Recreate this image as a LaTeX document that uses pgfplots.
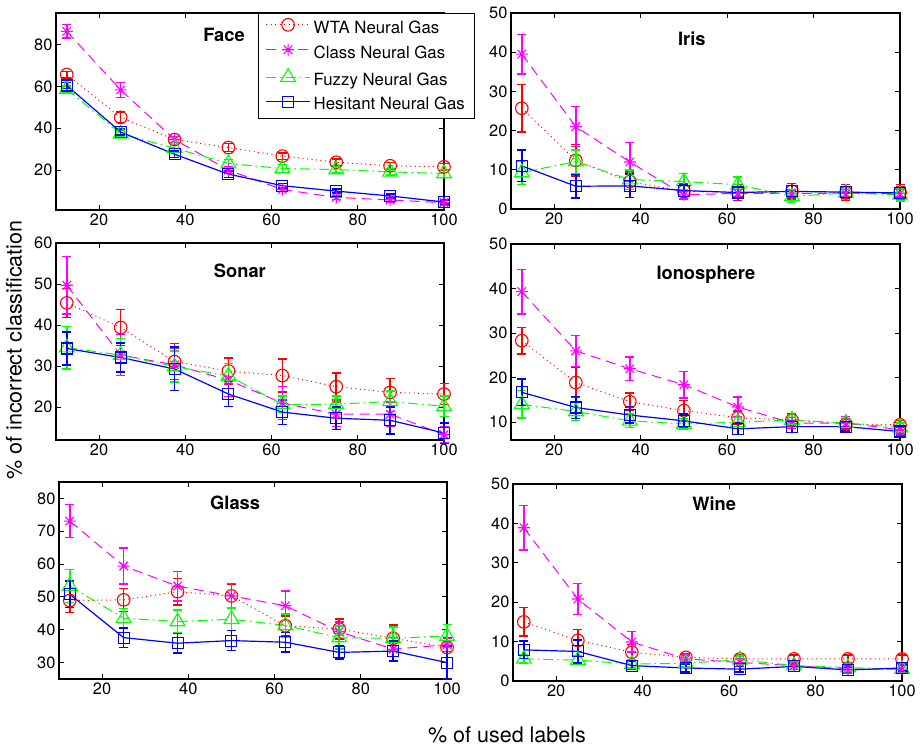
\documentclass[border=0pt]{standalone}
\usepackage{fontspec}
\setmainfont{TeX Gyre Heros}
\usepackage{pgfplots}
\pgfplotsset{compat=1.18}

\definecolor{mred}{rgb}{1,0,0}
\definecolor{mmag}{rgb}{1,0,1}
\definecolor{mgreen}{rgb}{0,1,0}
\definecolor{mblue}{rgb}{0,0,1}

% matlab style '*' (plus and cross together)
\pgfdeclareplotmark{ast8}{%
  \pgfpathmoveto{\pgfpoint{-\pgfplotmarksize}{0pt}}\pgfpathlineto{\pgfpoint{\pgfplotmarksize}{0pt}}%
  \pgfpathmoveto{\pgfpoint{0pt}{-\pgfplotmarksize}}\pgfpathlineto{\pgfpoint{0pt}{\pgfplotmarksize}}%
  \pgfpathmoveto{\pgfpoint{-.7071\pgfplotmarksize}{-.7071\pgfplotmarksize}}\pgfpathlineto{\pgfpoint{.7071\pgfplotmarksize}{.7071\pgfplotmarksize}}%
  \pgfpathmoveto{\pgfpoint{-.7071\pgfplotmarksize}{.7071\pgfplotmarksize}}\pgfpathlineto{\pgfpoint{.7071\pgfplotmarksize}{-.7071\pgfplotmarksize}}%
  \pgfusepathqstroke}

\tikzset{ttl/.style={font=\fontsize{18.3}{20}\selectfont\bfseries, anchor=center}}
\newcommand{\lf}{\fontsize{16.8}{18}\selectfont}

\pgfplotsset{
  panel/.style={
    scale only axis,
    anchor=south west,
    xmin=10, xmax=100,
    xtick={20,40,60,80,100},
    tick align=inside,
    tick pos=both,
    xticklabel pos=bottom, yticklabel pos=left,
    major tick length=5pt,
    axis line style={line width=1.3pt},
    every tick/.style={black, line width=1pt},
    tick label style={font=\fontsize{16.4}{18}\selectfont},
    /pgf/number format/assume math mode=true,
    clip=false,
    error bars/y dir=both,
    error bars/y explicit,
  },
  ebar/.style={
    error bars/error bar style={color=#1, draw=#1, solid, line width=1.5pt},
    error bars/error mark options={color=#1, draw=#1, solid, rotate=90, mark size=4.5pt, line width=1.5pt}},
  wta/.style={color=mred, line width=1pt, dash pattern=on 1pt off 3.5pt, mark=o, mark size=6.3pt, mark options={solid, line width=1.1pt}, ebar=mred},
  cls/.style={color=mmag, line width=1pt, dash pattern=on 10pt off 6pt, mark=ast8, mark size=6pt, mark options={solid, line width=1.1pt}, ebar=mmag},
  fuz/.style={color=mgreen, line width=1pt, dash pattern=on 10pt off 4pt on 1.5pt off 4pt, mark=triangle, mark size=8.5pt, mark options={solid, line width=1.1pt}, ebar=mgreen},
  hes/.style={color=mblue, line width=1.2pt, solid, mark=square, mark size=5.5pt, mark options={solid, line width=1.1pt}, ebar=mblue},
}

\begin{document}
\begin{tikzpicture}
\useasboundingbox (0pt,0pt) rectangle (921pt,747pt);

% Face
\begin{axis}[panel, at={(56pt,537pt)}, width=388pt, height=197pt,
  ymin=1, ymax=95, ytick={20,40,60,80},
  legend style={at={(axis description cs:0.5206,1)}, anchor=north west,
    draw=black, line width=1pt, fill=white,
    inner xsep=7pt, inner ysep=5pt, row sep=7.2pt,
    nodes={inner xsep=3pt, inner ysep=0pt, text height=12pt, text depth=3.5pt},
    cells={anchor=west}},
  legend image code/.code={%
    \draw[mark repeat=2, mark phase=2] plot coordinates {(0pt,4pt) (22pt,4pt) (44pt,4pt)};}]
\addplot[wta] coordinates {(12.5,65.6) +- (0,1.5) (25,45.2) +- (0,2.5) (37.5,34.6) +- (0,1.5) (50,30.8) +- (0,2) (62.5,26.7) +- (0,1.5) (75,23.8) +- (0,1.5) (87.5,22.1) +- (0,1.5) (100,21.6) +- (0,1.5)};
\addplot[cls] coordinates {(12.5,86.2) +- (0,3.2) (25,58.3) +- (0,3.6) (37.5,34.6) +- (0,1.5) (50,20) +- (0,1.5) (62.5,10.8) +- (0,1) (75,7.0) +- (0,1) (87.5,5.8) +- (0,1) (100,4.5) +- (0,1)};
\addplot[fuz] coordinates {(12.5,58.7) +- (0,1.5) (25,37.4) +- (0,1.5) (37.5,30.5) +- (0,1.5) (50,23.2) +- (0,2) (62.5,20.8) +- (0,2) (75,20.3) +- (0,1.5) (87.5,19.2) +- (0,1.5) (100,18.4) +- (0,2)};
\addplot[hes] coordinates {(12.5,60.4) +- (0,1.5) (25,38.2) +- (0,1.5) (37.5,27.6) +- (0,1.5) (50,18.1) +- (0,1.5) (62.5,12.6) +- (0,1) (75,10.0) +- (0,1) (87.5,7.7) +- (0,1) (100,4.8) +- (0,1)};
\legend{\lf WTA Neural Gas, \lf Class Neural Gas, \lf Fuzzy Neural Gas, \lf Hesitant Neural Gas}
\node[ttl] at (axis description cs:0.433,0.888) {Face};
\end{axis}

% Iris
\begin{axis}[panel, at={(511pt,538pt)}, width=389pt, height=196pt,
  ymin=0, ymax=50, ytick={0,10,20,30,40,50}]
\addplot[wta] coordinates {(12.5,25.7) +- (0,6.1) (25,12.4) +- (0,4) (37.5,7.0) +- (0,2.5) (50,4.5) +- (0,2) (62.5,4.2) +- (0,2) (75,4.5) +- (0,2) (87.5,4.2) +- (0,2) (100,4.2) +- (0,2)};
\addplot[cls] coordinates {(12.5,39.5) +- (0,5) (25,21.0) +- (0,5.1) (37.5,12.0) +- (0,5) (50,3.6) +- (0,1) (62.5,4.0) +- (0,1) (75,4.0) +- (0,1) (87.5,4.0) +- (0,1) (100,4.0) +- (0,1)};
\addplot[fuz] coordinates {(12.5,9.3) +- (0,3) (25,12.1) +- (0,3) (37.5,7.5) +- (0,2.5) (50,7.0) +- (0,2) (62.5,6.2) +- (0,2) (75,3.2) +- (0,1.5) (87.5,4.1) +- (0,1.5) (100,3.6) +- (0,1.5)};
\addplot[hes] coordinates {(12.5,11.0) +- (0,4) (25,5.8) +- (0,3) (37.5,5.9) +- (0,3) (50,4.7) +- (0,1.5) (62.5,4.2) +- (0,1.5) (75,4.5) +- (0,1.5) (87.5,4.3) +- (0,1.5) (100,4.1) +- (0,1.5)};
\node[ttl] at (axis description cs:0.465,0.867) {Iris};
\end{axis}

% Sonar
\begin{axis}[panel, at={(56pt,307pt)}, width=388pt, height=197pt,
  ymin=12, ymax=60, ytick={20,30,40,50,60}]
\addplot[wta] coordinates {(12.5,45.4) +- (0,3.5) (25,39.4) +- (0,4.4) (37.5,31.1) +- (0,4.4) (50,28.8) +- (0,3.2) (62.5,27.7) +- (0,4) (75,25.0) +- (0,3.3) (87.5,23.6) +- (0,3.4) (100,23.2) +- (0,2.6)};
\addplot[cls] coordinates {(12.5,49.7) +- (0,7) (25,32.7) +- (0,5) (37.5,30.3) +- (0,4) (50,26.6) +- (0,4) (62.5,21.0) +- (0,4) (75,18.3) +- (0,3) (87.5,18.3) +- (0,3) (100,13.3) +- (0,2)};
\addplot[fuz] coordinates {(12.5,34.5) +- (0,5.2) (25,32.7) +- (0,4) (37.5,29.9) +- (0,3.8) (50,27.6) +- (0,3) (62.5,20.7) +- (0,2) (75,20.7) +- (0,2) (87.5,21.4) +- (0,2.5) (100,20.2) +- (0,2.5)};
\addplot[hes] coordinates {(12.5,34.3) +- (0,4) (25,32.1) +- (0,3.5) (37.5,29.3) +- (0,5.3) (50,23.2) +- (0,3) (62.5,18.8) +- (0,3) (75,17.3) +- (0,2.8) (87.5,16.8) +- (0,3.3) (100,13.7) +- (0,2.5)};
\node[ttl] at (axis description cs:0.474,0.859) {Sonar};
\end{axis}

% Ionosphere
\begin{axis}[panel, at={(511pt,307pt)}, width=389pt, height=196pt,
  ymin=6, ymax=50, ytick={10,20,30,40,50}]
\addplot[wta] coordinates {(12.5,28.3) +- (0,3) (25,18.9) +- (0,3.4) (37.5,14.6) +- (0,2) (50,12.6) +- (0,2.3) (62.5,11.0) +- (0,1.5) (75,10.5) +- (0,1.5) (87.5,9.6) +- (0,1) (100,9.4) +- (0,1)};
\addplot[cls] coordinates {(12.5,39.3) +- (0,5) (25,26.0) +- (0,3.5) (37.5,22.0) +- (0,2.6) (50,18.4) +- (0,3) (62.5,13.4) +- (0,2.2) (75,9.8) +- (0,1.2) (87.5,9.8) +- (0,1.5) (100,8.3) +- (0,1)};
\addplot[fuz] coordinates {(12.5,14.0) +- (0,3.1) (25,12.4) +- (0,2) (37.5,10.3) +- (0,1.5) (50,9.6) +- (0,1.2) (62.5,10.0) +- (0,1) (75,10.5) +- (0,1.2) (87.5,9.8) +- (0,1) (100,8.8) +- (0,1)};
\addplot[hes] coordinates {(12.5,16.7) +- (0,3) (25,13.3) +- (0,2.5) (37.5,11.6) +- (0,1.8) (50,10.3) +- (0,1.5) (62.5,8.5) +- (0,1.3) (75,9.0) +- (0,1.3) (87.5,9.0) +- (0,1) (100,7.9) +- (0,1)};
\node[ttl] at (axis description cs:0.501,0.842) {Ionosphere};
\end{axis}

% Glass
\begin{axis}[panel, at={(59pt,68pt)}, width=388pt, height=197pt,
  ymin=25, ymax=85, ytick={30,40,50,60,70,80}]
\addplot[wta] coordinates {(12.5,48.9) +- (0,3.6) (25,49.1) +- (0,3.5) (37.5,51.6) +- (0,4) (50,50.3) +- (0,3.5) (62.5,41.2) +- (0,3) (75,40.2) +- (0,3) (87.5,37.4) +- (0,4) (100,34.6) +- (0,3)};
\addplot[cls] coordinates {(12.5,73.1) +- (0,5) (25,59.4) +- (0,5.5) (37.5,53.3) +- (0,4.5) (50,50.3) +- (0,3.8) (62.5,47.3) +- (0,4.5) (75,39.4) +- (0,3) (87.5,34.1) +- (0,3.5) (100,35.4) +- (0,2)};
\addplot[fuz] coordinates {(12.5,53.3) +- (0,5) (25,43.5) +- (0,3) (37.5,42.5) +- (0,3.5) (50,43.2) +- (0,3.5) (62.5,41.3) +- (0,3.5) (75,37.6) +- (0,3.5) (87.5,37.4) +- (0,3.5) (100,38.1) +- (0,3.5)};
\addplot[hes] coordinates {(12.5,50.8) +- (0,4) (25,37.6) +- (0,3) (37.5,35.9) +- (0,3) (50,36.7) +- (0,3) (62.5,36.2) +- (0,3) (75,33.1) +- (0,2) (87.5,33.5) +- (0,3) (100,30.0) +- (0,5)};
\node[ttl] at (axis description cs:0.454,0.895) {Glass};
\end{axis}

% Wine
\begin{axis}[panel, at={(513pt,66pt)}, width=389pt, height=197pt,
  ymin=0, ymax=50, ytick={0,10,20,30,40,50}]
\addplot[wta] coordinates {(12.5,15.0) +- (0,3.6) (25,10.3) +- (0,2.8) (37.5,7.3) +- (0,2) (50,6.0) +- (0,1) (62.5,5.6) +- (0,1) (75,5.6) +- (0,1) (87.5,5.6) +- (0,1) (100,5.6) +- (0,1)};
\addplot[cls] coordinates {(12.5,38.9) +- (0,5.6) (25,20.8) +- (0,3.9) (37.5,9.9) +- (0,2.6) (50,5.6) +- (0,1) (62.5,4.7) +- (0,1) (75,3.9) +- (0,1) (87.5,3.0) +- (0,1) (100,3.0) +- (0,1)};
\addplot[fuz] coordinates {(12.5,5.6) +- (0,1) (25,5.3) +- (0,1) (37.5,4.3) +- (0,1) (50,4.5) +- (0,1) (62.5,5.4) +- (0,1) (75,3.9) +- (0,1) (87.5,3.4) +- (0,1) (100,3.0) +- (0,1)};
\addplot[hes] coordinates {(12.5,7.9) +- (0,2.2) (25,7.5) +- (0,2.9) (37.5,3.9) +- (0,1) (50,3.3) +- (0,1) (62.5,3.0) +- (0,0.7) (75,3.7) +- (0,0.8) (87.5,2.8) +- (0,0.7) (100,3.3) +- (0,0.8)};
\node[ttl] at (axis description cs:0.517,0.898) {Wine};
\end{axis}

\node[rotate=90, font=\fontsize{21.5}{24}\selectfont] at (14pt,397pt) {\% of incorrect classification};
\node[font=\fontsize{21.5}{24}\selectfont] at (507pt,12pt) {\% of used labels};
\end{tikzpicture}
\end{document}
